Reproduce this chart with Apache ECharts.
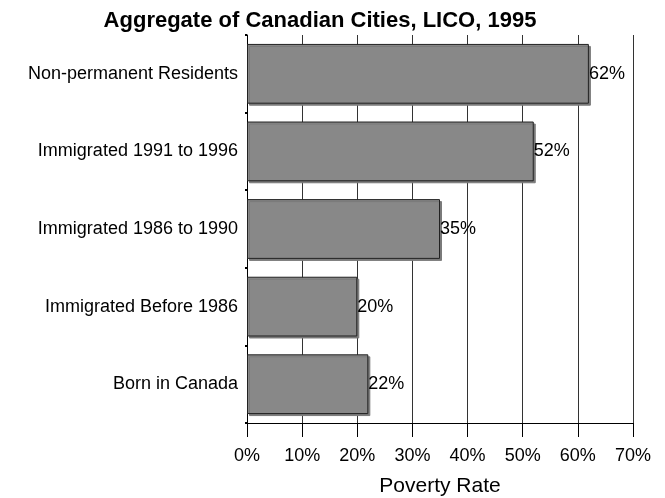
<!DOCTYPE html>
<html>
<head>
<meta charset="utf-8">
<script src="https://cdn.jsdelivr.net/npm/echarts@6/dist/echarts.min.js"></script>
<style>
  html, body { margin: 0; padding: 0; background: #fff; }
  #chart { width: 665px; height: 498px; }
</style>
</head>
<body>
<div id="chart"></div>
<script>
// categories top to bottom
var categories = ['Non-permanent Residents', 'Immigrated 1991 to 1996', 'Immigrated 1986 to 1990', 'Immigrated Before 1986', 'Born in Canada'];
// poverty rate (%)
var povertyRate = [62, 52, 35, 20, 22];
var axisMin = 0, axisMax = 70, axisStep = 10;

var chart = echarts.init(document.getElementById('chart'));
chart.setOption({
  animation: false,
  textStyle: { fontFamily: 'Liberation Sans, Arial, sans-serif', color: '#000' },
  title: {
    text: 'Aggregate of Canadian Cities, LICO, 1995',
    left: 315, top: 5, textAlign: 'center',
    textStyle: { fontSize: 22, fontWeight: 'bold', color: '#000', fontFamily: 'Liberation Sans, Arial, sans-serif' }
  },
  grid: { left: 247, right: 32, top: 35, bottom: 75, containLabel: false, outerBoundsMode: 'none' },
  xAxis: {
    type: 'value', min: axisMin, max: axisMax, interval: axisStep,
    name: 'Poverty Rate', nameLocation: 'middle', nameGap: 53,
    nameTextStyle: { fontSize: 21, color: '#000' },
    axisLine: { show: true, lineStyle: { color: '#000', width: 1 } },
    axisTick: { show: true, length: 14, inside: false, lineStyle: { color: '#000' } },
    axisLabel: { fontSize: 18, color: '#000', margin: 24, formatter: '{value}%' },
    splitLine: { show: true, lineStyle: { color: '#333', width: 1 } }
  },
  yAxis: {
    type: 'category', data: categories, inverse: true,
    axisLine: { show: true, lineStyle: { color: '#000', width: 1 } },
    axisTick: { show: true, length: 2, lineStyle: { color: '#000', width: 2 } },
    axisLabel: { fontSize: 18, color: '#000', margin: 9 }
  },
  series: [{
    type: 'bar', data: povertyRate, barCategoryGap: '23%',
    itemStyle: {
      color: '#888888', borderColor: '#222', borderWidth: 1,
      shadowColor: '#7a7a7a', shadowOffsetX: 2, shadowOffsetY: 2, shadowBlur: 0
    },
    label: { show: true, position: 'right', distance: 0, fontSize: 18, color: '#000', formatter: '{c}%' }
  }]
});
</script>
</body>
</html>
